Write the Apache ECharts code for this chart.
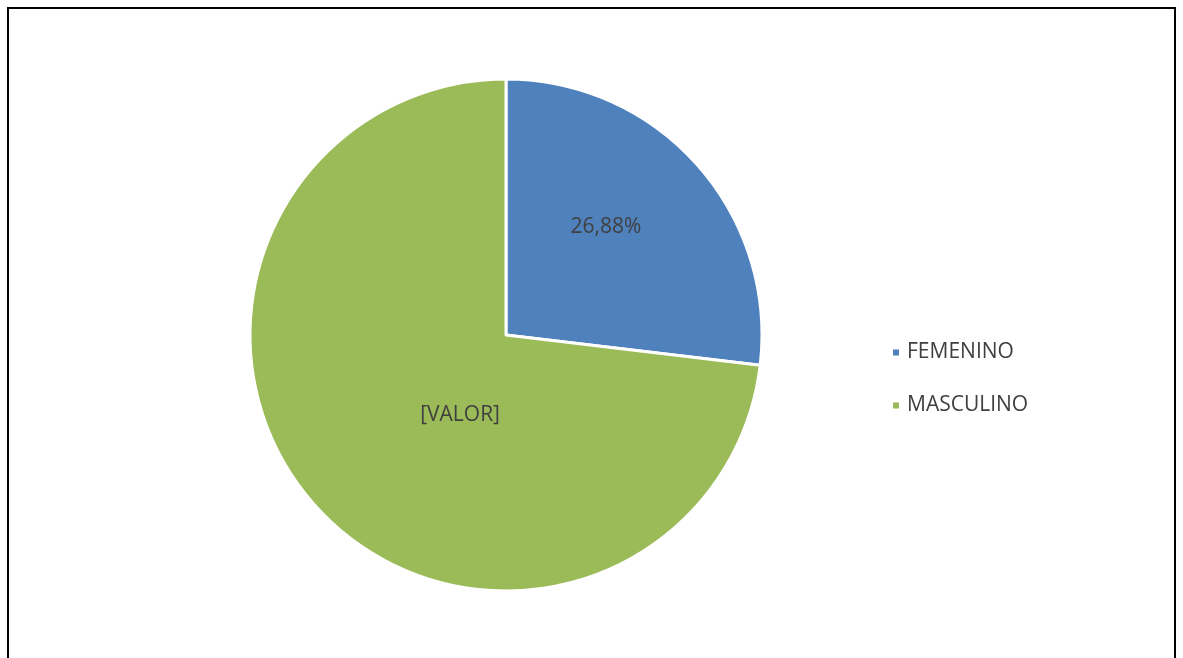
<!DOCTYPE html>
<html>
<head>
<meta charset="utf-8">
<script src="https://cdn.jsdelivr.net/npm/echarts@6/dist/echarts.min.js"></script>
<style>
html,body{margin:0;padding:0;background:#fff;}
#grafico{width:1183px;height:658px;}
</style>
</head>
<body>
<div id="grafico"></div>
<script>
// dados do gráfico
var categorias = ['FEMENINO', 'MASCULINO'];
var valores = [26.88, 73.12];
var rotulos = ['26,88%', '[VALOR]'];
var cores = ['#4F81BD', '#9BBB59'];

window.addEventListener('load', start);

function start(){
    var myChart = echarts.init(document.getElementById('grafico'));

    var dados = categorias.map(function(nome, i){
        return { name: nome, value: valores[i], itemStyle: { color: cores[i] } };
    });

    // deslocamento dos rótulos (posição do Excel)
    var desloc = [[2, -21], [52, -7]];

    var option = {
        animation: false,
        graphic: [
            {
                type: 'rect',
                shape: { x: 8, y: 8, width: 1167, height: 700 },
                style: { fill: 'none', stroke: '#000', lineWidth: 2 }
            }
        ],
        legend: {
            orient: 'vertical',
            left: 886,
            top: 337,
            icon: 'rect',
            itemWidth: 8,
            itemHeight: 8,
            itemGap: 32,
            textStyle: { fontFamily: 'Open Sans', fontSize: 21, lineHeight: 20, color: '#404040', padding: [0, 0, 0, 2] },
            data: categorias
        },
        series: [
            {
                name: 'Sexo',
                type: 'pie',
                radius: [0, 256],
                center: [506, 335],
                startAngle: 90,
                clockwise: true,
                data: dados,
                itemStyle: { borderColor: '#fff', borderWidth: 3 },
                label: {
                    position: 'inside',
                    fontFamily: 'Open Sans',
                    fontSize: 21,
                    color: '#404040',
                    formatter: function(p){ return rotulos[p.dataIndex]; }
                },
                labelLayout: function(p){
                    return { dx: desloc[p.dataIndex][0], dy: desloc[p.dataIndex][1] };
                },
                emphasis: { disabled: true }
            }
        ]
    };
    myChart.setOption(option);
}
</script>
</body>
</html>
